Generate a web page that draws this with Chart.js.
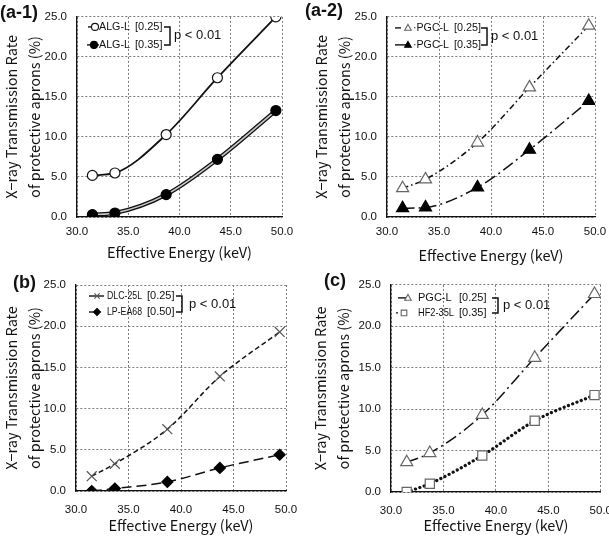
<!DOCTYPE html>
<html>
<head>
<meta charset="utf-8">
<script src="https://cdn.jsdelivr.net/npm/chart.js@4.4.1/dist/chart.umd.min.js"></script>
<style>
  html, body { margin: 0; padding: 0; background: #fff; overflow: hidden; }
  body { width: 609px; height: 538px; position: relative; }
  .panel { position: absolute; }
  .tag { position: absolute; font: bold 18px "Liberation Sans", Arial, sans-serif; color: #111; }
</style>
</head>
<body>

<div class="panel" style="left:0;top:0"><canvas id="a1"></canvas></div>
<div class="panel" style="left:304px;top:0"><canvas id="a2"></canvas></div>
<div class="panel" style="left:0;top:268px"><canvas id="b"></canvas></div>
<div class="panel" style="left:304px;top:268px"><canvas id="c"></canvas></div>

<div class="tag" style="left:0;top:2px">(a-1)</div>
<div class="tag" style="left:305px;top:0">(a-2)</div>
<div class="tag" style="left:13px;top:272px">(b)</div>
<div class="tag" style="left:324px;top:270px">(c)</div>

<script>
// ---------- data ----------
const energy = [31.5, 33.7, 38.7, 43.7, 49.4];   // effective energy, keV

const algL025 = [5.2, 5.5, 10.3, 17.4, 25.0];
const algL035 = [0.3, 0.5, 2.8, 7.2, 13.3];
const pgcL025 = [3.6, 4.7, 9.3, 16.2, 23.9];
const pgcL035 = [1.1, 1.2, 3.7, 8.4, 14.5];
const dlc25L  = [1.8, 3.3, 7.5, 13.9, 19.3];
const lpEA68  = [0.0, 0.3, 1.1, 2.8, 4.4];
const hf235L  = [0.0, 1.0, 4.4, 8.6, 11.7];

const xTicks = [30, 35, 40, 45, 50];
const yTicks = [0, 5, 10, 15, 20, 25];

const yTitle = ["X\u2212ray Transmission Rate", "of protective aprons (%)"];
const xTitle = "Effective Energy (keV)";
const pText = "p < 0.01";

const CANVAS_W = 320;   // wider than the cell, extra part is clipped by the window

function pts(ys) {
  return energy.map((x, i) => ({ x: x, y: ys[i] }));
}

/* ---------- marker drawing for the legend ---------- */
function drawMarker(ctx, style, x, y, r, fill, stroke) {
  ctx.save();
  ctx.fillStyle = fill;
  ctx.strokeStyle = stroke;
  ctx.lineWidth = 1.1;
  ctx.setLineDash([]);
  ctx.beginPath();
  if (style === "circle") {
    ctx.arc(x, y, r, 0, Math.PI * 2);
  } else if (style === "triangle") {
    ctx.moveTo(x, y - r);
    ctx.lineTo(x + r * 0.95, y + r * 0.65);
    ctx.lineTo(x - r * 0.95, y + r * 0.65);
    ctx.closePath();
  } else if (style === "rect") {
    ctx.rect(x - r * 0.8, y - r * 0.8, r * 1.6, r * 1.6);
  } else if (style === "rectRot") {
    ctx.moveTo(x, y - r); ctx.lineTo(x + r, y); ctx.lineTo(x, y + r); ctx.lineTo(x - r, y);
    ctx.closePath();
  } else if (style === "crossRot") {
    const d = r * 0.75;
    ctx.moveTo(x - d, y - d); ctx.lineTo(x + d, y + d);
    ctx.moveTo(x + d, y - d); ctx.lineTo(x - d, y + d);
  }
  if (style !== "crossRot") ctx.fill();
  ctx.stroke();
  ctx.restore();
}

/* ---------- in-plot legend with bracket and p value ---------- */
const legendPlugin = {
  id: "bracketLegend",
  afterDraw(chart, args, opts) {
    if (!opts.items) return;
    const ctx = chart.ctx;
    const a = chart.chartArea;
    ctx.save();
    ctx.textBaseline = "middle";
    ctx.textAlign = "left";
    opts.items.forEach((it, i) => {
      const y = a.top + opts.y0 + i * opts.dy;
      // short line segment next to the marker
      ctx.strokeStyle = "#111";
      ctx.lineWidth = 1.4;
      ctx.setLineDash([]);
      ctx.beginPath();
      ctx.moveTo(a.left + it.lx0, y);
      ctx.lineTo(a.left + it.lx1, y);
      ctx.stroke();
      drawMarker(ctx, it.marker, a.left + it.mx, y, it.r || 3.5, it.fill, it.stroke);
      ctx.fillStyle = "#111";
      ctx.font = "11px 'Liberation Sans', Arial, sans-serif";
      // squeeze names to the narrow width of the original font
      ctx.fillText(it.name, a.left + opts.xName, y, opts.xThick - opts.xName - 5);
      ctx.fillText(it.thick, a.left + opts.xThick, y, opts.xBracket - opts.xThick - 6);
    });
    // bracket
    const yTop = a.top + opts.y0;
    const yBot = a.top + opts.y0 + opts.dy;
    const bx = a.left + opts.xBracket;
    ctx.strokeStyle = "#111";
    ctx.lineWidth = 1.5;
    ctx.beginPath();
    ctx.moveTo(bx - 6, yTop);
    ctx.lineTo(bx, yTop);
    ctx.lineTo(bx, yBot);
    ctx.lineTo(bx - 6, yBot);
    ctx.stroke();
    ctx.font = "13px 'Liberation Sans', Arial, sans-serif";
    ctx.fillText(pText, a.left + opts.xP, (yTop + yBot) / 2);
    ctx.restore();
  }
};

/* ---------- one panel ---------- */
function makePanel(id, p, datasets, legend) {
  const cv = document.getElementById(id);
  cv.width = CANVAS_W;
  cv.height = p.h;
  cv.style.width = CANVAS_W + "px";
  cv.style.height = p.h + "px";

  const gridColor = "#7a7a7a";
  const tickFont = { family: "'Liberation Sans', Arial, sans-serif", size: 11.5 };
  const titleFont = { family: "'Noto Sans CJK JP', 'Liberation Sans', sans-serif", size: 14.5, lineHeight: 1.6 };

  return new Chart(cv, {
    type: "line",
    data: { datasets: datasets },
    options: {
      responsive: false,
      animation: false,
      events: [],
      layout: { padding: { top: p.t, right: CANVAS_W - p.r, left: 0, bottom: 0 } },
      plugins: {
        legend: { display: false },
        tooltip: { enabled: false },
        bracketLegend: legend
      },
      scales: {
        x: {
          type: "linear",
          min: xTicks[0],
          max: xTicks[xTicks.length - 1],
          afterBuildTicks: s => { s.ticks = xTicks.map(v => ({ value: v })); },
          afterFit: s => { s.height = p.h - p.b; },
          ticks: { callback: v => v.toFixed(1), font: tickFont, color: "#111", padding: p.xTickPad, maxRotation: 0 },
          grid: { color: gridColor, lineWidth: 1, drawTicks: false },
          border: { display: true, color: "#111", width: 1.3, dash: [2, 2] },
          title: { display: true, text: xTitle, font: titleFont, color: "#111", padding: { top: 0, bottom: p.xTitlePad } }
        },
        y: {
          type: "linear",
          min: yTicks[0],
          max: yTicks[yTicks.length - 1],
          afterBuildTicks: s => { s.ticks = yTicks.map(v => ({ value: v })); },
          afterFit: s => { s.width = p.l; },
          ticks: { callback: v => v.toFixed(1), font: tickFont, color: "#111", padding: 10 },
          grid: { color: gridColor, lineWidth: 1, drawTicks: false },
          border: { display: true, color: "#111", width: 1.3, dash: [2, 2] },
          title: { display: true, text: yTitle, font: titleFont, color: "#111", padding: { top: p.yTitlePad, bottom: 0 } }
        }
      }
    },
    plugins: [legendPlugin]
  });
}

function lineDs(data, o) {
  return Object.assign({
    data: pts(data),
    borderColor: "#111",
    borderWidth: 1.6,
    cubicInterpolationMode: "monotone",
    pointRadius: 5,
    pointBorderWidth: 1.2,
    fill: false
  }, o);
}

/* ---------- (a-1) ---------- */
makePanel("a1",
  { h: 268, l: 77, r: 282, t: 11, b: 217, xTickPad: 8, xTitlePad: 4, yTitlePad: 0 },
  [
    lineDs(algL025, { order: 0, pointStyle: "circle", pointBackgroundColor: "#fff", pointBorderColor: "#111", borderWidth: 1.8 }),
    lineDs(algL035, { order: 3, pointRadius: 0, borderWidth: 4.2, borderColor: "#111" }),
    lineDs(algL035, { order: 2, pointRadius: 0, borderWidth: 1.6, borderColor: "#c8c8c8" }),
    lineDs(algL035, { order: 1, showLine: false, pointStyle: "circle", pointBackgroundColor: "#000", pointBorderColor: "#000" })
  ],
  {
    xName: 22, xThick: 58, xBracket: 93, xP: 97, y0: 10, dy: 18,
    items: [
      { lx0: 11, lx1: 22, mx: 18, marker: "circle", fill: "#fff", stroke: "#111", name: "ALG-L", thick: "[0.25]" },
      { lx0: 10, lx1: 22, mx: 17, marker: "circle", fill: "#000", stroke: "#000", name: "ALG-L", thick: "[0.35]" }
    ]
  });

/* ---------- (a-2) ---------- */
makePanel("a2",
  { h: 268, l: 83, r: 291, t: 9, b: 217, xTickPad: 8, xTitlePad: 1, yTitlePad: 6 },
  [
    lineDs(pgcL025, { pointStyle: "triangle", pointRadius: 7, pointBackgroundColor: "#fff", pointBorderColor: "#666", borderDash: [6, 3, 1.5, 3], borderWidth: 1.5 }),
    lineDs(pgcL035, { pointStyle: "triangle", pointRadius: 7, pointBackgroundColor: "#000", pointBorderColor: "#000", borderDash: [12, 4, 2, 4], borderWidth: 1.5 })
  ],
  {
    xName: 26, xThick: 67, xBracket: 100, xP: 104, y0: 11, dy: 17,
    items: [
      { lx0: 8, lx1: 14, mx: 21, marker: "triangle", fill: "#fff", stroke: "#666", name: "\u00b7PGC-L", thick: "[0.25]" },
      { lx0: 8, lx1: 20, mx: 21, marker: "triangle", fill: "#000", stroke: "#000", name: "\u00b7PGC-L", thick: "[0.35]" }
    ]
  });

/* ---------- (b) ---------- */
makePanel("b",
  { h: 270, l: 76, r: 286, t: 17, b: 223, xTickPad: 12, xTitlePad: 1, yTitlePad: 0 },
  [
    lineDs(dlc25L, { pointStyle: "crossRot", pointRadius: 7, pointBorderColor: "#555", borderDash: [5, 3], borderWidth: 1.5 }),
    lineDs(lpEA68, { pointStyle: "rectRot", pointRadius: 5.5, pointBackgroundColor: "#000", pointBorderColor: "#000", borderDash: [10, 5], borderWidth: 1.5 })
  ],
  {
    xName: 31, xThick: 71, xBracket: 106, xP: 113, y0: 11, dy: 16,
    items: [
      { lx0: 13, lx1: 28, mx: 21, marker: "crossRot", fill: "#fff", stroke: "#555", name: "DLC-25L", thick: "[0.25]" },
      { lx0: 13, lx1: 21, mx: 21, marker: "rectRot", fill: "#000", stroke: "#000", name: "LP-EA68", thick: "[0.50]" }
    ]
  });

/* ---------- (c) ---------- */
makePanel("c",
  { h: 270, l: 87, r: 297, t: 12, b: 224, xTickPad: 12, xTitlePad: 1, yTitlePad: 5 },
  [
    lineDs(pgcL025, { pointStyle: "triangle", pointRadius: 7, pointBackgroundColor: "#fff", pointBorderColor: "#666", borderDash: [12, 4, 2, 4], borderWidth: 1.5 }),
    lineDs(hf235L, { pointStyle: "rect", pointRadius: 6.5, pointBackgroundColor: "#fff", pointBorderColor: "#666", borderDash: [0.1, 4.5], borderCapStyle: "round", borderWidth: 3.2 })
  ],
  {
    xName: 27, xThick: 68, xBracket: 107, xP: 112, y0: 13, dy: 15,
    items: [
      { lx0: 7, lx1: 15, mx: 17, marker: "triangle", fill: "#fff", stroke: "#666", name: "PGC-L", thick: "[0.25]" },
      { lx0: 5, lx1: 7, mx: 13, marker: "rect", fill: "#fff", stroke: "#666", name: "HF2-35L", thick: "[0.35]" }
    ]
  });
</script>
</body>
</html>
